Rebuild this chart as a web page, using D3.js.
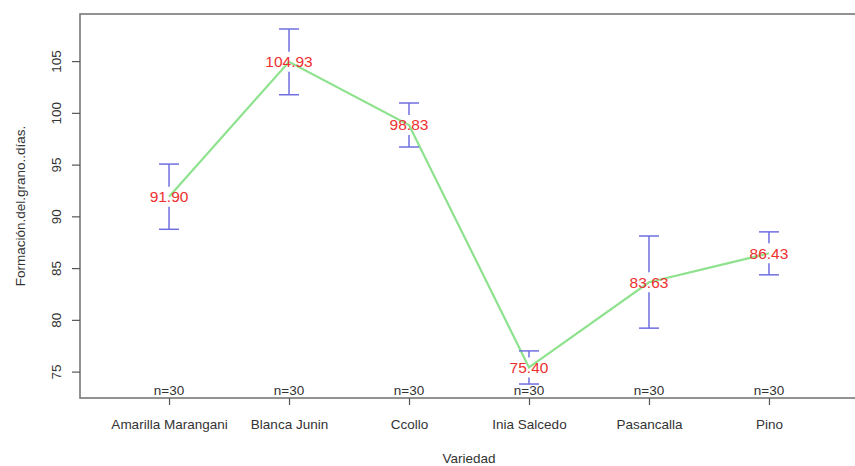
<!DOCTYPE html>
<html>
<head>
<meta charset="utf-8">
<script src="https://cdn.jsdelivr.net/npm/d3@7"></script>
<style>
  html, body { margin: 0; padding: 0; background: #fff; }
  svg { display: block; font-family: "Liberation Sans", Arial, sans-serif; }
</style>
</head>
<body>
<svg id="chart" width="855" height="466"></svg>
<script>
// Mean days to grain formation per variety, with confidence limits
const categories = ["Amarilla Marangani", "Blanca Junin", "Ccollo", "Inia Salcedo", "Pasancalla", "Pino"];
const means = [91.90, 104.93, 98.83, 75.40, 83.63, 86.43];
const upper = [95.05, 108.1, 100.95, 77.0, 88.1, 88.5];
const lower = [88.75, 101.75, 96.7, 73.8, 79.2, 84.35];
const counts = [30, 30, 30, 30, 30, 30];
const yTicks = [75, 80, 85, 90, 95, 100, 105];

const svg = d3.select("#chart");
const box = { left: 80, right: 858, top: 14, bottom: 398 };

const x = d3.scalePoint()
  .domain(categories)
  .range([box.left, box.right])
  .padding(0.742);

const y = d3.scaleLinear()
  .domain([72.45, 109.55])
  .range([box.bottom, box.top]);

const axisColor = "#555";
const textColor = "#333";

// plot frame
svg.append("rect")
  .attr("x", box.left).attr("y", box.top)
  .attr("width", box.right - box.left).attr("height", box.bottom - box.top)
  .attr("fill", "none").attr("stroke", "#777").attr("stroke-width", 1.6);

// y axis
const yAxis = svg.append("g")
  .attr("transform", `translate(${box.left},0)`)
  .call(d3.axisLeft(y).tickValues(yTicks).tickSize(8).tickSizeOuter(0));
yAxis.select(".domain").remove();
yAxis.selectAll(".tick line").attr("stroke", axisColor).attr("stroke-width", 1.2);
yAxis.selectAll(".tick text")
  .attr("fill", textColor)
  .style("font-size", "13.5px")
  .attr("transform", "rotate(-90)")
  .attr("x", 0).attr("y", -24)
  .attr("dy", "0.35em")
  .attr("text-anchor", "middle");

// x axis
const xAxis = svg.append("g")
  .attr("transform", `translate(0,${box.bottom})`)
  .call(d3.axisBottom(x).tickSize(7).tickSizeOuter(0));
xAxis.select(".domain").remove();
xAxis.selectAll(".tick line").attr("stroke", axisColor).attr("stroke-width", 1.2);
xAxis.selectAll(".tick text")
  .attr("fill", textColor)
  .style("font-size", "13.5px")
  .attr("y", 26)
  .attr("dy", "0.35em");

// axis titles
svg.append("text")
  .attr("x", (box.left + box.right) / 2).attr("y", 458)
  .attr("dy", "0.35em").attr("text-anchor", "middle")
  .attr("fill", textColor).style("font-size", "13.5px")
  .text("Variedad");

svg.append("text")
  .attr("transform", `translate(20,${(box.top + box.bottom) / 2}) rotate(-90)`)
  .attr("dy", "0.35em").attr("text-anchor", "middle")
  .attr("fill", textColor).style("font-size", "13.5px")
  .text("Formación.del.grano..días.");

// connecting line through the means
const line = d3.line()
  .x((d, i) => x(categories[i]))
  .y(d => y(d));
svg.append("path")
  .datum(means)
  .attr("d", line)
  .attr("fill", "none")
  .attr("stroke", "#8ee28e")
  .attr("stroke-width", 2.2);

// error bars, interrupted around the mean label
const gap = 10;
const capHalf = 10;
const barColor = "#6f6fe0";
const bars = svg.append("g");
categories.forEach((c, i) => {
  const cx = x(c);
  const ym = y(means[i]);
  const yu = y(upper[i]);
  const yl = y(lower[i]);
  if (ym - gap > yu) {
    bars.append("line").attr("x1", cx).attr("x2", cx).attr("y1", yu).attr("y2", ym - gap);
  }
  if (ym + gap < yl) {
    bars.append("line").attr("x1", cx).attr("x2", cx).attr("y1", ym + gap).attr("y2", yl);
  }
  bars.append("line").attr("x1", cx - capHalf).attr("x2", cx + capHalf).attr("y1", yu).attr("y2", yu);
  bars.append("line").attr("x1", cx - capHalf).attr("x2", cx + capHalf).attr("y1", yl).attr("y2", yl);
});
bars.selectAll("line").attr("stroke", barColor).attr("stroke-width", 1.5);

// mean labels
svg.append("g").selectAll("text")
  .data(means)
  .join("text")
  .attr("x", (d, i) => x(categories[i]))
  .attr("y", d => y(d))
  .attr("dy", "0.35em")
  .attr("text-anchor", "middle")
  .attr("fill", "#ee3030")
  .style("font-size", "15.5px")
  .text(d => d.toFixed(2));

// sample sizes
svg.append("g").selectAll("text")
  .data(counts)
  .join("text")
  .attr("x", (d, i) => x(categories[i]))
  .attr("y", 390)
  .attr("dy", "0.35em")
  .attr("text-anchor", "middle")
  .attr("fill", textColor)
  .style("font-size", "13.5px")
  .text(d => "n=" + d);
</script>
</body>
</html>
